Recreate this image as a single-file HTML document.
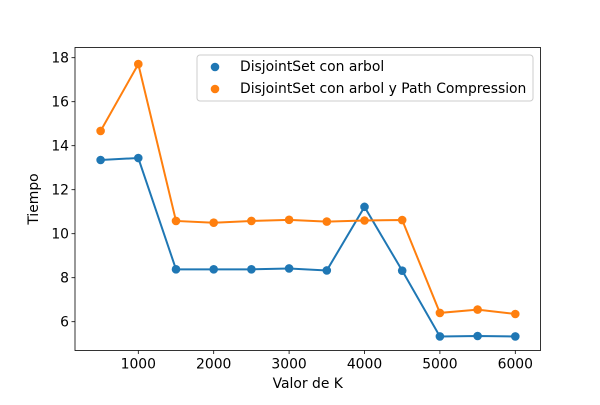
<!DOCTYPE html>
<html><head><meta charset="utf-8"><style>
body{margin:0;background:#fff;}
text{font-family:"DejaVu Sans","Liberation Sans",sans-serif;fill:#000;}
</style></head><body>
<svg id="chart" width="600" height="400" xmlns="http://www.w3.org/2000/svg">
<rect width="600" height="400" fill="#fff"/>
<g id="plot"></g>
</svg>
<script>
const categories=[500,1000,1500,2000,2500,3000,3500,4000,4500,5000,5500,6000];
const seriesBlue=[13.35,13.44,8.38,8.38,8.38,8.42,8.33,11.22,8.32,5.33,5.35,5.33];
const seriesOrange=[14.67,17.71,10.58,10.5,10.58,10.63,10.55,10.6,10.62,6.4,6.55,6.35];
const xTicks=[1000,2000,3000,4000,5000,6000];
const yTicks=[6,8,10,12,14,16,18];
const NS="http://www.w3.org/2000/svg";
const g=document.getElementById('plot');
const L=75,R=540.5,T=47.5,B=350.5;
const FS='13.9';
function xs(v){return 138.3+(v-1000)*0.0754;}
function ys(v){return 321.7-(v-6)*22;}
function mk(tag,a){const e=document.createElementNS(NS,tag);for(const k in a)e.setAttribute(k,a[k]);g.appendChild(e);return e;}
xTicks.forEach(t=>{
 const l=mk('line',{x1:xs(t),x2:xs(t),y1:B,y2:B+3.5,stroke:'#000','stroke-width':0.8});
 
 
 const tx=mk('text',{x:xs(t),y:B+18,'text-anchor':'middle','font-size':FS});tx.textContent=t;
 
 
});
yTicks.forEach(t=>{
 const l=mk('line',{x1:L-3.5,x2:L,y1:ys(t),y2:ys(t),stroke:'#000','stroke-width':0.8});
 
 
 const tx=mk('text',{x:L-6,y:ys(t)+5,'text-anchor':'end','font-size':FS});tx.textContent=t;
 
 
});
function series(vals,color,name){
 const p=mk('polyline',{points:categories.map((c,i)=>xs(c)+','+ys(vals[i])).join(' '),fill:'none',stroke:color,'stroke-width':2});
 
 
 categories.forEach((c,i)=>{
  const d=mk('circle',{cx:xs(c),cy:ys(vals[i]),r:4.3,fill:color});
  
  
 });
}
series(seriesBlue,'#1f77b4','blue-series');
series(seriesOrange,'#ff7f0e','orange-series');
const fr=mk('rect',{x:L,y:T,width:R-L,height:B-T,fill:'none',stroke:'#000','stroke-width':0.8});


const xl=mk('text',{x:(L+R)/2,y:388,'text-anchor':'middle','font-size':FS});xl.textContent='Valor de K';


const yl=mk('text',{x:0,y:0,'text-anchor':'middle','font-size':FS,transform:'translate(38,199) rotate(-90)'});yl.textContent='Tiempo';


const lg=mk('rect',{x:197,y:55,width:336,height:46,rx:3,fill:'#fff','fill-opacity':0.8,stroke:'#ccc','stroke-width':1});


[['#1f77b4','DisjointSet con arbol',66],['#ff7f0e','DisjointSet con arbol y Path Compression',88]].forEach(e=>{
 const c=mk('circle',{cx:215,cy:e[2]+1,r:4.3,fill:e[0]});
 
 
 const t=mk('text',{x:240,y:e[2]+5,'font-size':FS});t.textContent=e[1];
 
 
});
</script>
</body></html>
